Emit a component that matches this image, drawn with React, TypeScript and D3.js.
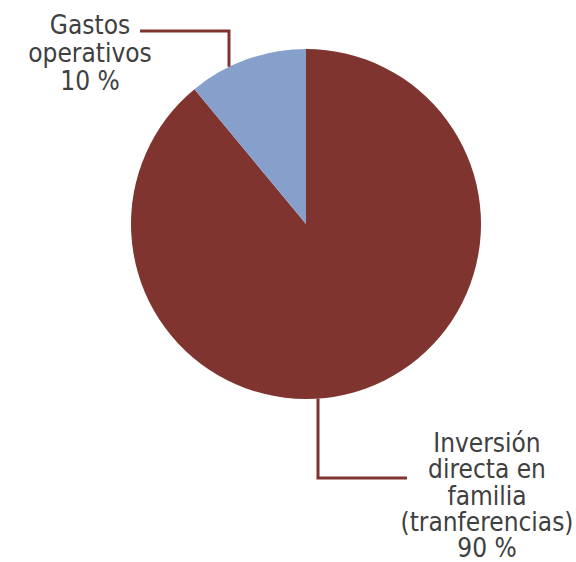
import { useEffect, useRef } from 'react'
import * as d3 from 'd3'

const categories = ['Inversión directa en familia (tranferencias)', 'Gastos operativos']
const values = [89, 11]
const percentLabels = ['90 %', '10 %']
const labelLines = [
  ['Inversión', 'directa en', 'familia', '(tranferencias)'],
  ['Gastos', 'operativos'],
]
const colors = ['#7F3430', '#86A0CB']

const width = 576
const height = 562

const App = () => {
  const svgRef = useRef<SVGSVGElement | null>(null)

  useEffect(() => {
    const svg = d3.select(svgRef.current)
    svg.selectAll('*').remove()

    const cx = 306
    const cy = 224
    const r = 175
    const font = '"Liberation Sans Narrow", "DejaVu Sans Condensed", "Liberation Sans", sans-serif'
    const lineColor = '#7F3430'
    const textColor = '#404040'

    const pie = d3
      .pie<number>()
      .sort(null)
      .value((d) => d)
    const arcs = pie(values)
    const arc = d3.arc<d3.PieArcDatum<number>>().innerRadius(0).outerRadius(r)

    const g = svg.append('g').attr('transform', `translate(${cx},${cy})`)
    g.selectAll('path')
      .data(arcs)
      .join('path')
      .attr('d', arc)
      .attr('fill', (_, i) => colors[i])

    // leader lines: vertical drop hits the rim, then runs to the label
    const rimY = (x: number, sign: number) => cy + sign * Math.sqrt(r * r - (x - cx) * (x - cx))

    const leaders = [
      { x: 318, sign: 1, elbowY: 478, endX: 407 },
      { x: 229, sign: -1, elbowY: 31, endX: 140 },
    ]

    leaders.forEach((l) => {
      svg
        .append('path')
        .attr('d', `M${l.x},${rimY(l.x, l.sign)}V${l.elbowY}H${l.endX}`)
        .attr('fill', 'none')
        .attr('stroke', lineColor)
        .attr('stroke-width', 3)
    })

    const labelPos = [
      { x: 487, y: 452, lineH: 26.3 },
      { x: 90, y: 34, lineH: 28 },
    ]

    categories.forEach((_, i) => {
      const lines = [...labelLines[i], percentLabels[i]]
      const t = svg
        .append('text')
        .attr('x', labelPos[i].x)
        .attr('y', labelPos[i].y)
        .attr('text-anchor', 'middle')
        .attr('font-family', font)
        .attr('font-size', 26)
        .attr('fill', textColor)
      lines.forEach((s, j) => {
        t.append('tspan')
          .attr('x', labelPos[i].x)
          .attr('dy', j === 0 ? 0 : labelPos[i].lineH)
          .text(s)
      })
    })
  }, [])

  return (
    <svg
      ref={svgRef}
      width={width}
      height={height}
      style={{ position: 'absolute', left: 0, top: 0, background: '#fff' }}
    />
  )
}

export default App
